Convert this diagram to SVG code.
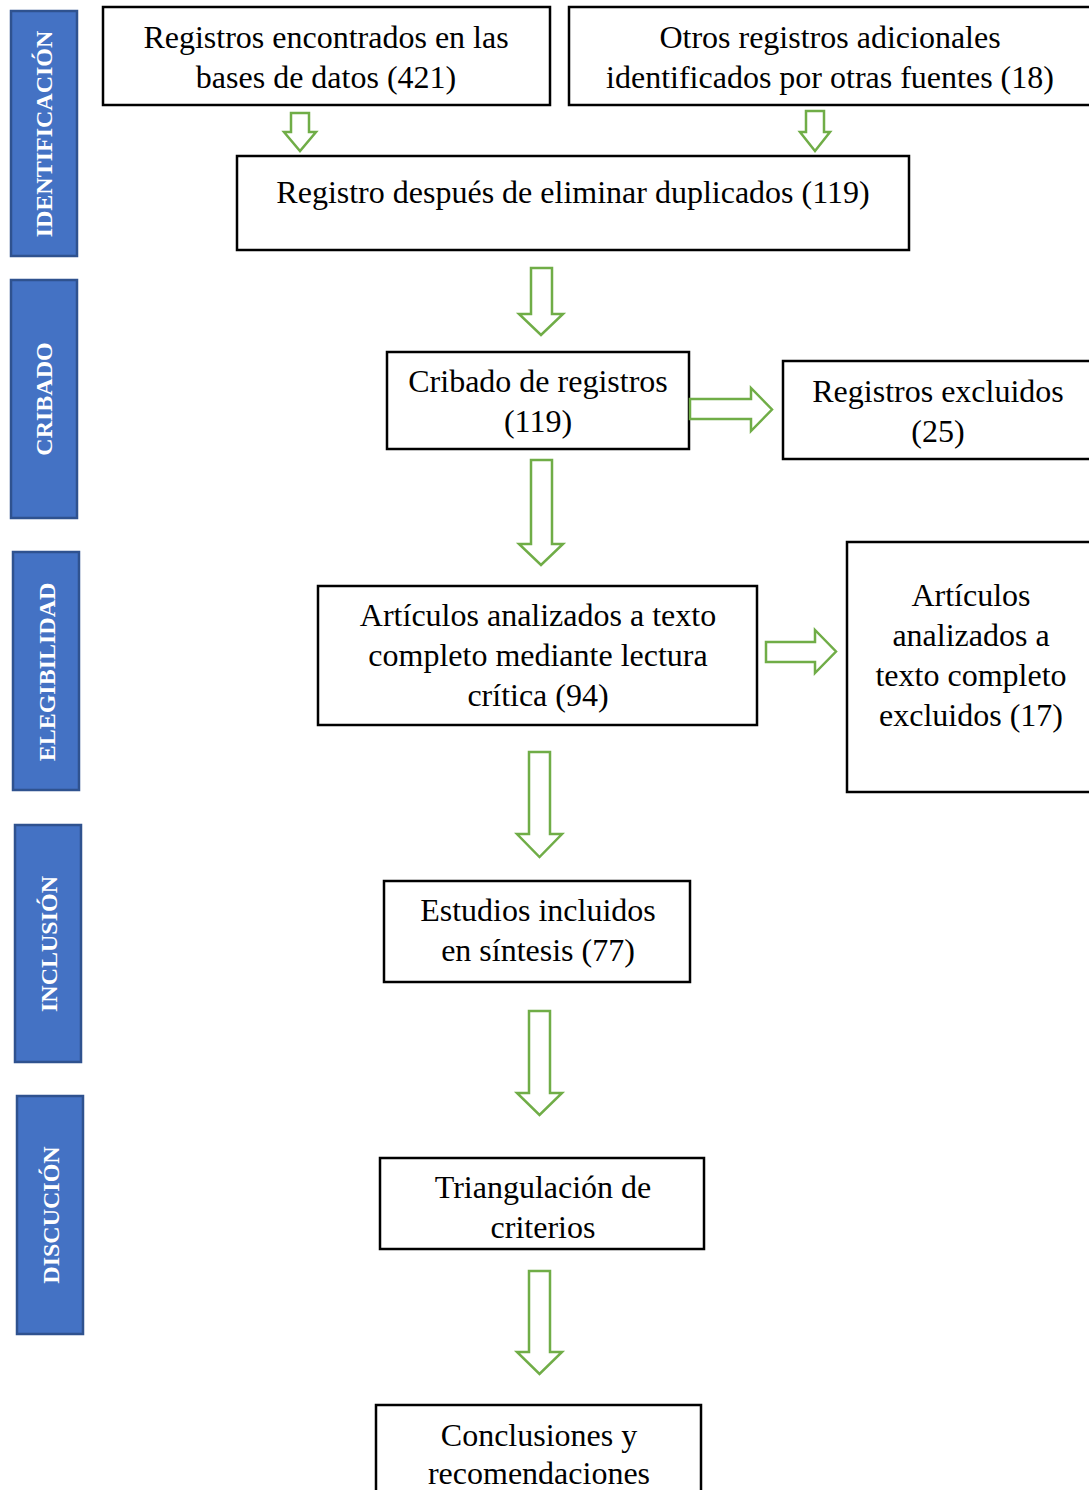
<svg xmlns="http://www.w3.org/2000/svg" width="1089" height="1490" viewBox="0 0 1089 1490">
<style>
.side{fill:#4472C4;stroke:#2F528F;stroke-width:2.5}
.sl{fill:#fff;font-family:"Liberation Serif","Times New Roman",serif;font-weight:bold;font-size:24px;text-anchor:middle}
.box{fill:#fff;stroke:#000;stroke-width:2.5}
.t{fill:#000;font-family:"Liberation Serif","Times New Roman",serif;font-size:32px;text-anchor:middle}
.arr{fill:#fff;stroke:#70AD47;stroke-width:2.5;stroke-linejoin:miter}
</style>
<rect width="1089" height="1490" fill="#fff"/>
<g id="phase-identificacion"><rect class="side" x="11" y="11" width="66" height="245"/><text class="sl" transform="translate(52,134) rotate(-90)">IDENTIFICACIÓN</text></g>
<g id="phase-cribado"><rect class="side" x="11" y="280" width="66" height="238"/><text class="sl" transform="translate(52,399) rotate(-90)">CRIBADO</text></g>
<g id="phase-elegibilidad"><rect class="side" x="13" y="552" width="66" height="238"/><text class="sl" transform="translate(55,672) rotate(-90)">ELEGIBILIDAD</text></g>
<g id="phase-inclusion"><rect class="side" x="15" y="825" width="66" height="237"/><text class="sl" transform="translate(57,944) rotate(-90)">INCLUSIÓN</text></g>
<g id="phase-discucion"><rect class="side" x="17" y="1096" width="66" height="238"/><text class="sl" transform="translate(59,1215) rotate(-90)">DISCUCIÓN</text></g>

<g id="n-bases"><rect class="box" x="103" y="7" width="447" height="98"/><text class="t" x="326" y="48">Registros encontrados en las</text><text class="t" x="326" y="88">bases de datos (421)</text></g>
<g id="n-otros"><rect class="box" x="569" y="7" width="530" height="98"/><text class="t" x="830" y="48">Otros registros adicionales</text><text class="t" x="830" y="88">identificados por otras fuentes (18)</text></g>
<g id="n-duplicados"><rect class="box" x="237" y="156" width="672" height="94"/><text class="t" x="573" y="203">Registro después de eliminar duplicados (119)</text></g>
<g id="n-cribado"><rect class="box" x="387" y="352" width="302" height="97"/><text class="t" x="538" y="392">Cribado de registros</text><text class="t" x="538" y="432">(119)</text></g>
<g id="n-excluidos"><rect class="box" x="783" y="361" width="316" height="98"/><text class="t" x="938" y="402">Registros excluidos</text><text class="t" x="938" y="442">(25)</text></g>
<g id="n-articulos"><rect class="box" x="318" y="586" width="439" height="139"/><text class="t" x="538" y="626">Artículos analizados a texto</text><text class="t" x="538" y="666">completo mediante lectura</text><text class="t" x="538" y="706">crítica (94)</text></g>
<g id="n-art-excluidos"><rect class="box" x="847" y="542" width="252" height="250"/><text class="t" x="971" y="606">Artículos</text><text class="t" x="971" y="646">analizados a</text><text class="t" x="971" y="686">texto completo</text><text class="t" x="971" y="726">excluidos (17)</text></g>
<g id="n-estudios"><rect class="box" x="384" y="881" width="306" height="101"/><text class="t" x="538" y="921">Estudios incluidos</text><text class="t" x="538" y="961">en síntesis (77)</text></g>
<g id="n-triangulacion"><rect class="box" x="380" y="1158" width="324" height="91"/><text class="t" x="543" y="1198">Triangulación de</text><text class="t" x="543" y="1238">criterios</text></g>
<g id="n-conclusiones"><rect class="box" x="376" y="1405" width="325" height="100"/><text class="t" x="539" y="1446">Conclusiones y</text><text class="t" x="539" y="1484">recomendaciones</text></g>

<g id="connectors">
<path class="arr" d="M291,113 H309 V132 H316 L300,151 L284,132 H291 Z"/>
<path class="arr" d="M806,111 H824 V132 H830 L815,151 L800,132 H806 Z"/>
<path class="arr" d="M531,268 H552 V314 H563 L541,335 L519,314 H531 Z"/>
<path class="arr" d="M690,399 H751 V388 L772,409.5 L751,431 V419 H690 Z"/>
<path class="arr" d="M531,460 H552 V544 H563 L541,565 L519,544 H531 Z"/>
<path class="arr" d="M766,642 H815 V630 L836,651.5 L815,673 V662 H766 Z"/>
<path class="arr" d="M529,752 H550 V834 H562 L539.5,857 L517,834 H529 Z"/>
<path class="arr" d="M529,1011 H550 V1093 H562 L539.5,1115 L517,1093 H529 Z"/>
<path class="arr" d="M529,1271 H550 V1352 H562 L539.5,1374 L517,1352 H529 Z"/>
</g>
</svg>
